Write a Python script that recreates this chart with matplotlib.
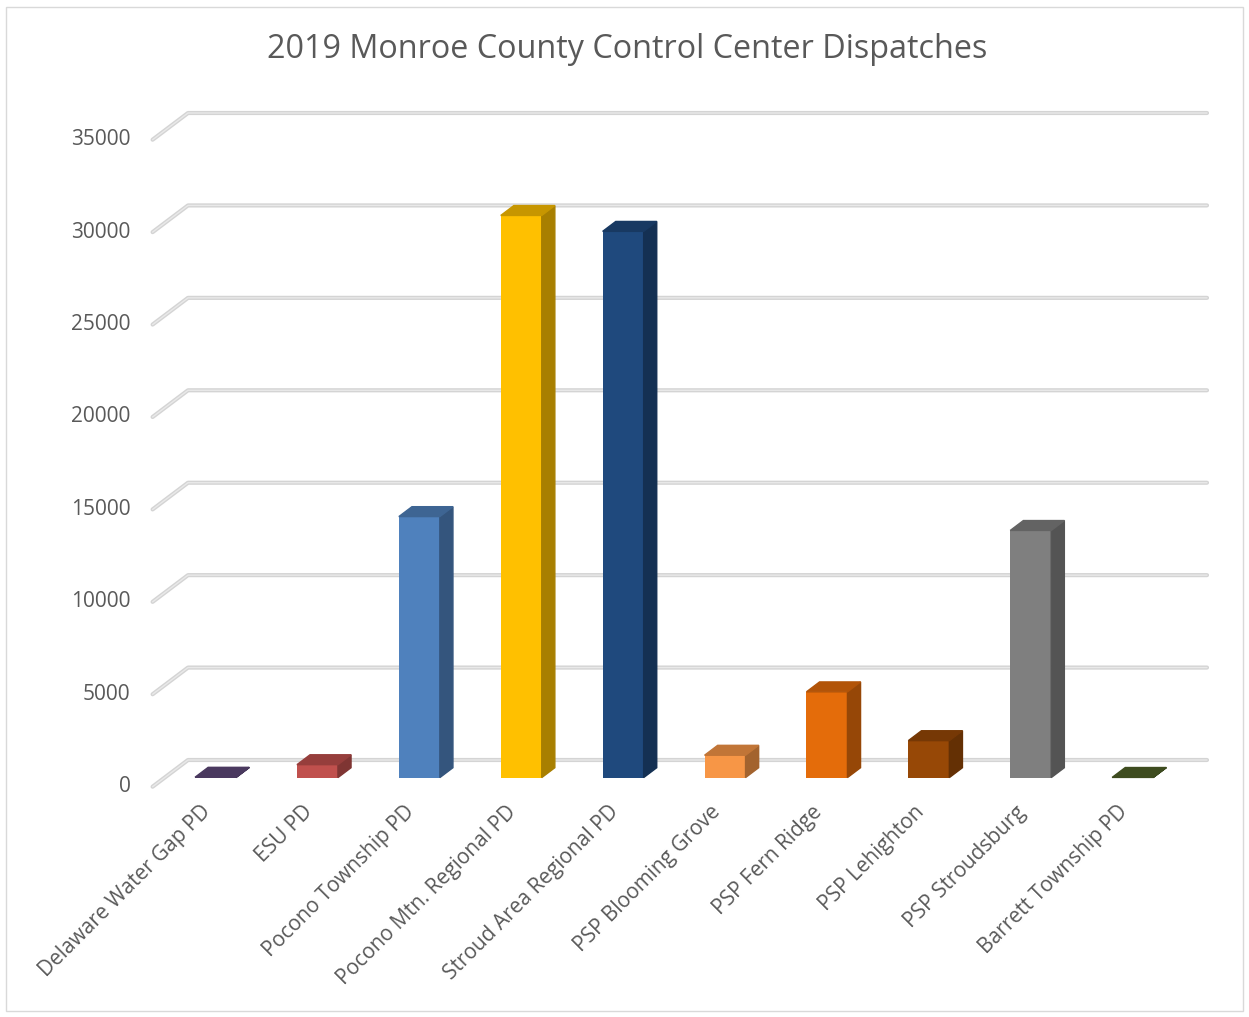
import numpy as np
import matplotlib.pyplot as plt
from matplotlib.colors import to_rgb
from matplotlib.patches import Rectangle

plt.rcParams['font.family'] = ['Open Sans', 'DejaVu Sans']

# Data
agencies = ['Delaware Water Gap PD', 'ESU PD', 'Pocono Township PD',
            'Pocono Mtn. Regional PD', 'Stroud Area Regional PD',
            'PSP Blooming Grove', 'PSP Fern Ridge', 'PSP Lehighton',
            'PSP Stroudsburg', 'Barrett Township PD']
dispatches = [20, 700, 14120, 30410, 29550, 1210, 4640, 2000, 13370, 10]
colors = ['#5f497a', '#c0504d', '#4f81bd', '#ffc000', '#1f497d',
          '#f79646', '#e46c0a', '#974806', '#7f7f7f', '#4f6228']
yticks = [0, 5000, 10000, 15000, 20000, 25000, 30000, 35000]

W, H = 1249, 1017
fig = plt.figure(figsize=(W / 100, H / 100), dpi=100)
fig.patches.append(Rectangle((6 / W, 6 / H), 1 - 12 / W, 1 - 13 / H,
                             transform=fig.transFigure, fill=False,
                             edgecolor='#d9d9d9', lw=1))

# back wall of the 3D box: x 188..1207 px, y 760..113 px
left, right, bottom, top = 188, 1207, 760, 113
ax = fig.add_axes([left / W, 1 - bottom / H, (right - left) / W, (bottom - top) / H])
ax.set_xlim(-0.5, 9.5)
ax.set_ylim(0, 35000)
ax.axis('off')

DX = 10 / (right - left)          # category units per pixel
DY = 35000 / (bottom - top)       # value units per pixel
depth_x, depth_y = -35.4 * DX, -26.7 * DY   # back wall -> front plane

# gridlines with the slanted floor/wall part
for v in yticks:
    xs = [-0.5 + depth_x, -0.5, 9.5]
    ys = [v + depth_y, v, v]
    ax.plot(xs, ys, color='#d4d4d4', lw=3, solid_capstyle='round', clip_on=False, zorder=1)
    ax.plot(xs, ys, color='#e9e9e9', lw=1, solid_capstyle='round', clip_on=False, zorder=1)
    ax.text(-0.5 + depth_x - 22 * DX, v + depth_y, str(v), ha='right', va='center',
            fontsize=15, color='#595959')


def shade(c, k):
    return tuple(np.array(to_rgb(c)) * k)


bw = 41 * DX
fx, fy = -23.4 * DX, -17.6 * DY     # front face offset
bx, by = -10.3 * DX, -7.7 * DY      # back face offset
x = np.arange(len(agencies))
for i, (val, c) in enumerate(zip(dispatches, colors)):
    x0 = x[i] + fx - bw / 2
    y0 = fy
    ox, oy = bx - fx, by - fy
    ax.bar(x0, val, width=bw, bottom=y0, align='edge', color=c, clip_on=False, zorder=3)
    # side face
    ax.fill([x0 + bw, x0 + bw + ox, x0 + bw + ox, x0 + bw],
            [y0, y0 + oy, y0 + oy + val, y0 + val],
            color=shade(c, 0.66), clip_on=False, zorder=3)
    # top face
    ax.fill([x0, x0 + bw, x0 + bw + ox, x0 + ox],
            [y0 + val, y0 + val, y0 + oy + val, y0 + oy + val],
            color=shade(c, 0.78), clip_on=False, zorder=3)
    ax.text(x[i] + fx - 8 * DX, -49 * DY, agencies[i], rotation=45,
            rotation_mode='anchor', ha='right', va='center',
            fontsize=15, color='#595959')

fig.text(627 / W, 1 - 50 / H, '2019 Monroe County Control Center Dispatches',
         ha='center', va='center', fontsize=23.3, color='#595959')

fig.savefig('out.png', dpi=100)
